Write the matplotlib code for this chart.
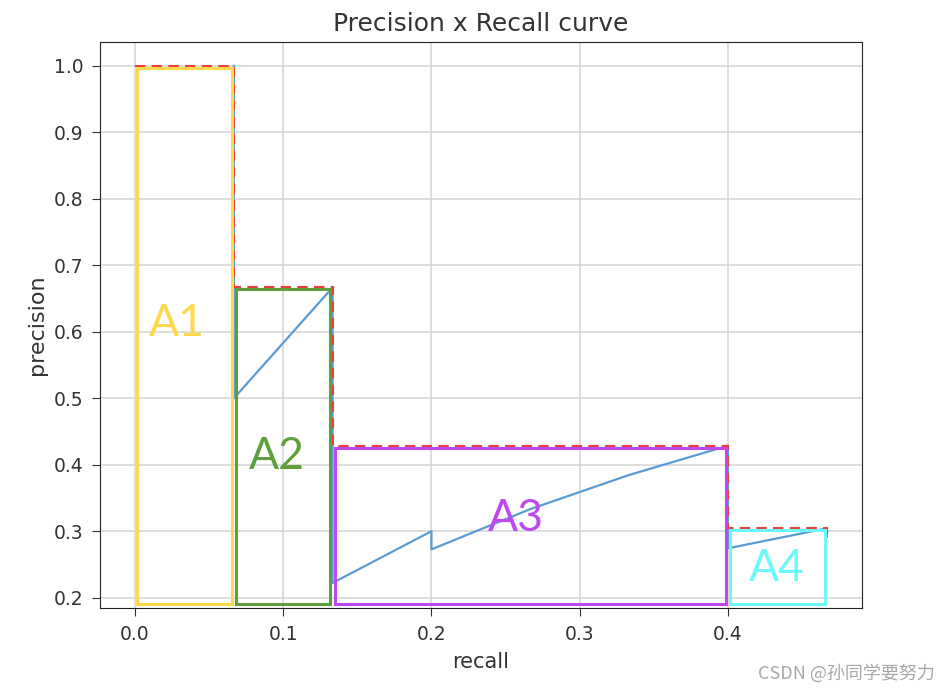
import matplotlib
matplotlib.use("Agg")
import matplotlib.pyplot as plt
from matplotlib.patches import Rectangle

# recall / precision of the ranked detections
recall = [0.0667, 0.0667, 0.1333, 0.1333, 0.1333, 0.1333, 0.1333, 0.1333, 0.1333,
          0.2, 0.2, 0.2667, 0.3333, 0.4, 0.4, 0.4667, 0.4667]
precision = [1.0, 0.5, 0.6667, 0.5, 0.4, 0.3333, 0.2857, 0.25, 0.2222,
             0.3, 0.2727, 0.3333, 0.3846, 0.4286, 0.2743, 0.3043, 0.2917]

# interpolated precision (step)
interp_recall = [0.0, 0.0667, 0.0667, 0.1333, 0.1333, 0.4, 0.4, 0.4667, 0.4667]
interp_prec = [1.0, 1.0, 0.6667, 0.6667, 0.4286, 0.4286, 0.3043, 0.3043, 0.2917]

# areas A1..A4
area_names = ["A1", "A2", "A3", "A4"]
area_left = [0.0, 0.0667, 0.1333, 0.4]
area_right = [0.0667, 0.1333, 0.4, 0.4667]
area_top = [1.0, 0.6667, 0.4286, 0.3043]
area_bottom = 0.1905
area_colors = ["#fbd84c", "#5e9e3c", "#c048f2", "#6ef8f8"]
label_pos = [(0.0279, 0.612), (0.0958, 0.4117), (0.257, 0.3184), (0.433, 0.2432)]

fig = plt.figure(figsize=(9.37, 6.89), dpi=100)
ax = fig.add_axes([0.1067, 0.1171, 0.8132, 0.8219])

ax.grid(True, color="#d4d4d4", linewidth=1.1, zorder=0)
ax.set_axisbelow(True)

ax.plot(recall, precision, color="#5b9bd5", linewidth=1.6, zorder=2)
ax.plot(interp_recall, interp_prec, color="#e8403a", linestyle="--", linewidth=1.5,
        dashes=(5, 3), zorder=3)

# boxes sit just inside the interpolated step
dx, dy = 0.0014, 0.003
for name, l, r, t, c, (tx, ty) in zip(area_names, area_left, area_right, area_top,
                                      area_colors, label_pos):
    ax.add_patch(Rectangle((l + dx, area_bottom), r - l - 2 * dx, t - dy - area_bottom,
                           fill=False, edgecolor=c, linewidth=2.2, zorder=4))
    ax.text(tx, ty, name, color=c, fontsize=32, ha="center", va="center",
            family="Lato", zorder=5)

ax.set_xlim(-0.0236, 0.4904)
ax.set_ylim(0.184, 1.036)
ax.set_xticks([0.0, 0.1, 0.2, 0.3, 0.4])
ax.set_yticks([0.2, 0.3, 0.4, 0.5, 0.6, 0.7, 0.8, 0.9, 1.0])
ax.tick_params(labelsize=13.5, colors="#333333", length=6, pad=6)
for s in ax.spines.values():
    s.set_color("#222222")

ax.set_title("Precision x Recall curve", fontsize=18, color="#333333", pad=8)
ax.set_xlabel("recall", fontsize=15, color="#333333", labelpad=5.5)
ax.set_ylabel("precision", fontsize=16, color="#333333", labelpad=5)

fig.text(0.998, 0.023, "CSDN @孙同学要努力", ha="right", va="center", fontsize=13,
         color="#a8a8a8", family=["Noto Sans CJK SC", "DejaVu Sans"])

fig.savefig("out.png", dpi=100)
